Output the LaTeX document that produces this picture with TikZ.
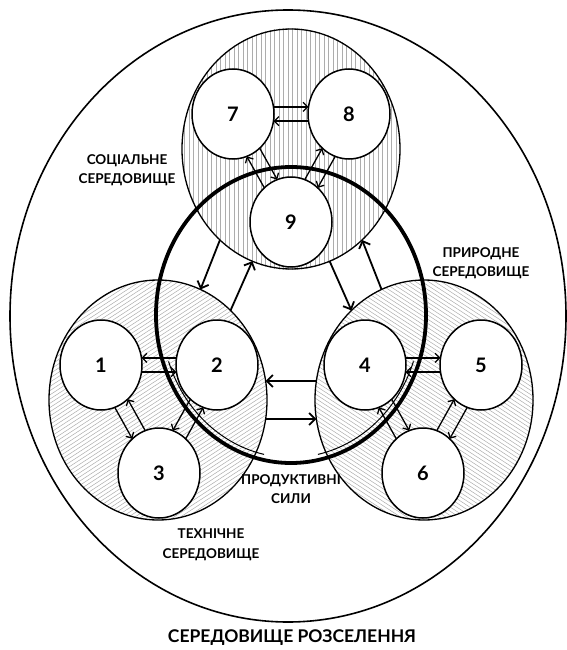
\documentclass[tikz,border=0pt]{standalone}
\usepackage{fontspec}
\setmainfont{Lato}
\usetikzlibrary{shapes.geometric,arrows.meta}
\begin{document}
\begin{tikzpicture}[x=1pt,y=-1pt,
  smallc/.style={ellipse,draw,line width=1.5pt,fill=white,minimum width=82pt,minimum height=90pt,inner sep=0pt,outer sep=0pt,font=\bfseries\fontsize{20}{20}\selectfont},
  envc/.style={ellipse,draw,line width=1.3pt,minimum width=218pt,minimum height=240pt,inner sep=0pt,outer sep=0pt},
  hatch/.style={draw=black!32,line width=0.5pt},
  arr/.style={line width=1.3pt,-{Straight Barb[length=4.5pt,width=9pt]}},
  bigarr/.style={line width=1.8pt,-{Straight Barb[length=6pt,width=12pt]}},
  lbl/.style={align=center,font=\bfseries\fontsize{13.5}{19.5}\selectfont,inner sep=0pt},
]
\useasboundingbox (0,0) rectangle (567,650);
% outer environment
\node[ellipse,draw,line width=1.6pt,minimum width=556pt,minimum height=612pt,inner sep=0pt] (E) at (288,316) {};
% hatching
\begin{scope}
  \clip (291,149) ellipse [x radius=109pt,y radius=121pt];
  \foreach \x in {180,184.5,...,404} \draw[hatch] (\x,25) -- (\x,275);
\end{scope}
\begin{scope}
  \clip (158,400) ellipse [x radius=109pt,y radius=120pt];
  \foreach \x in {-340,-333.5,...,275} \draw[hatch] (\x,530) -- ++(420,-273);
\end{scope}
\begin{scope}
  \clip (424,400) ellipse [x radius=110pt,y radius=120pt];
  \foreach \x in {-90,-83.5,...,545} \draw[hatch] (\x,270) -- ++(420,273);
\end{scope}
% environment circles
\node[envc] (S) at (291,149) {};
\node[envc] (T) at (158,400) {};
\node[envc] (N) at (424,400) {};
% productive forces
\node[ellipse,draw,line width=3.8pt,minimum width=270pt,minimum height=296pt,inner sep=0pt,outer sep=0pt] (P) at (291,315) {};
\draw[line width=1pt] (P.center) ++(199:129.5pt and 142.5pt) arc[start angle=199,end angle=258,x radius=129.5pt,y radius=142.5pt];
\draw[line width=1pt] (P.center) ++(282:129.5pt and 142.5pt) arc[start angle=282,end angle=341,x radius=129.5pt,y radius=142.5pt];
% big arrows
\draw[bigarr] (S.-128) -- (T.69);
\draw[bigarr] (T.51) -- (S.-109);
\draw[bigarr] (S.-71) -- (N.129);
\draw[bigarr] (N.111) -- (S.-52);
\draw[bigarr] (N.170) -- (T.10);
\draw[bigarr] (T.-10) -- (N.-170);
% small circles
\node[smallc] (n7) at (233,114) {7};
\node[smallc] (n8) at (349,114) {8};
\node[smallc] (n9) at (291,222) {9};
\node[smallc] (n1) at (101,365) {1};
\node[smallc] (n2) at (217,365) {2};
\node[smallc] (n3) at (159,473) {3};
\node[smallc] (n4) at (365,365) {4};
\node[smallc] (n5) at (481,365) {5};
\node[smallc] (n6) at (423,473) {6};
% small arrows
\draw[arr] (n7.10) -- (n8.170);
\draw[arr] (n8.190) -- (n7.-10);
\draw[arr] (n9.128) -- (n7.-72);
\draw[arr] (n7.-52) -- (n9.108);
\draw[arr] (n9.72) -- (n8.-128);
\draw[arr] (n8.-108) -- (n9.52);
\draw[arr] (n2.170) -- (n1.10);
\draw[arr] (n1.-10) -- (n2.190);
\draw[arr] (n1.-72) -- (n3.128);
\draw[arr] (n3.108) -- (n1.-52);
\draw[arr] (n2.-128) -- (n3.72);
\draw[arr] (n3.52) -- (n2.-108);
\draw[arr] (n4.10) -- (n5.170);
\draw[arr] (n5.190) -- (n4.-10);
\draw[arr] (n6.128) -- (n4.-72);
\draw[arr] (n4.-52) -- (n6.108);
\draw[arr] (n6.72) -- (n5.-128);
\draw[arr] (n5.-108) -- (n6.52);
% labels
\node[lbl] (ls) at (127,170) {СОЦІАЛЬНЕ\\СЕРЕДОВИЩЕ};
\node[lbl] (ln) at (481,263) {ПРИРОДНЕ\\СЕРЕДОВИЩЕ};
\node[lbl] (lp) at (291,489) {ПРОДУКТИВНІ\\СИЛИ};
\node[lbl] (lt) at (211,545) {ТЕХНІЧНЕ\\СЕРЕДОВИЩЕ};
\node[font=\bfseries\fontsize{17.5}{20}\selectfont,inner sep=0pt] (lo) at (292,638) {СЕРЕДОВИЩЕ РОЗСЕЛЕННЯ};
\end{tikzpicture}
\end{document}
